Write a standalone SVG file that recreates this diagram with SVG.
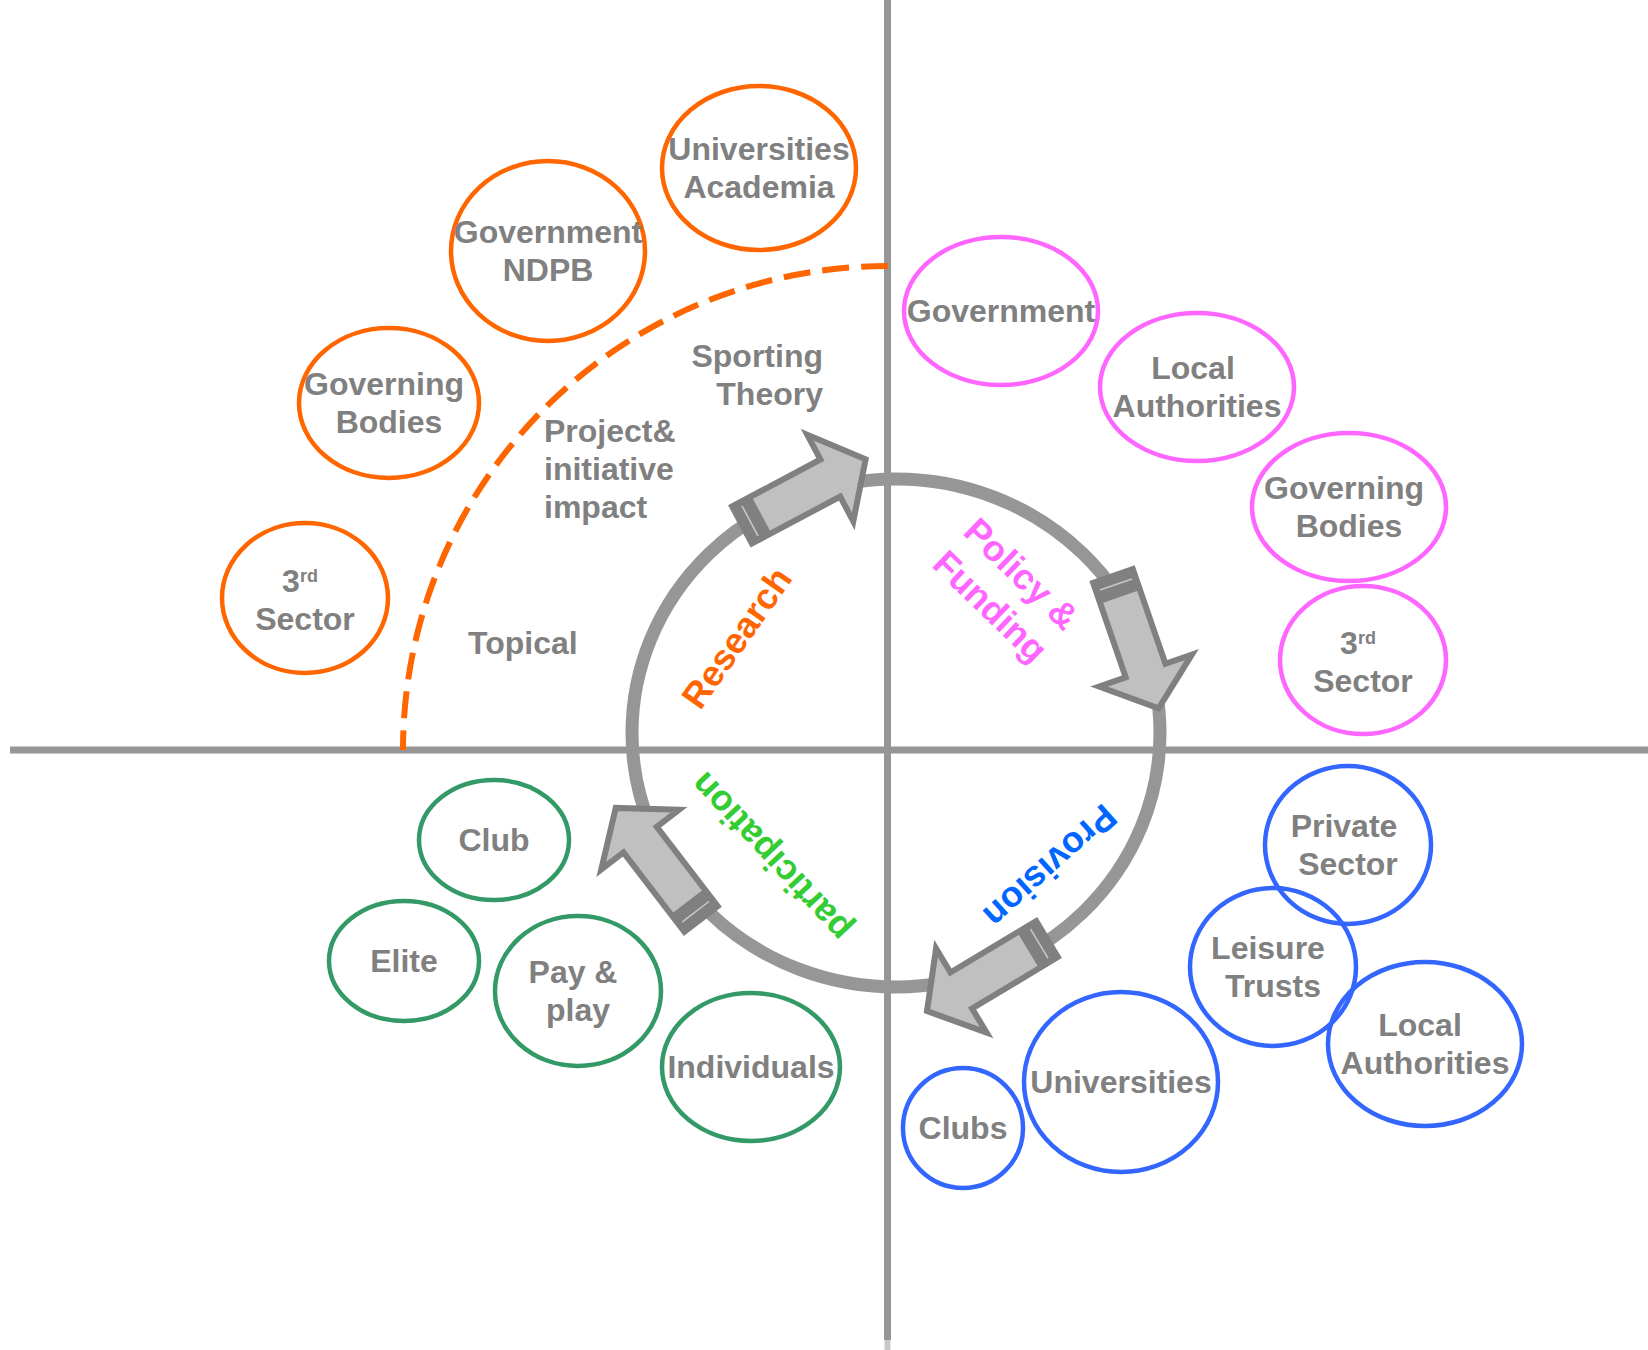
<svg xmlns="http://www.w3.org/2000/svg" width="1648" height="1350" viewBox="0 0 1648 1350">
<style>
.t{font-family:"Liberation Sans",Arial,sans-serif;font-weight:bold;font-size:32px;fill:#808080;text-anchor:middle}
.tl{text-anchor:start}
.te{text-anchor:end}
.sup{font-size:18px}
.big{font-family:"Liberation Sans",Arial,sans-serif;font-weight:bold;font-size:36px;text-anchor:middle}
.eo{fill:none;stroke:#FF6600;stroke-width:4.5}
.ep{fill:none;stroke:#FF66FF;stroke-width:4.5}
.eb{fill:none;stroke:#3366FF;stroke-width:4.5}
.eg{fill:none;stroke:#339966;stroke-width:4.5}
.ax{stroke:#969696;stroke-width:7;fill:none}
</style>
<defs>
<g id="barrow">
<path d="M0,-21 H100 V-49 L140,0 L100,49 V21 H0 Z" fill="#C0C0C0" stroke="#808080" stroke-width="6" stroke-linejoin="miter"/>
<rect x="0" y="-21" width="22" height="42" fill="#808080"/>
<line x1="9" y1="-17" x2="9" y2="17" stroke="#C8C8C8" stroke-width="1.5"/>
</g>
</defs>
<rect width="1648" height="1350" fill="#FFFFFF"/>
<g id="axes">
<line class="ax" x1="10" y1="750" x2="1648" y2="750"/>
<line class="ax" x1="887.5" y1="0" x2="887.5" y2="1340"/>
<line x1="887.5" y1="1340" x2="887.5" y2="1350" stroke="#C8C8C8" stroke-width="6"/>
</g>
<g id="connectors">
<path d="M888,266 A485,484 0 0 0 403,750" fill="none" stroke="#FF6600" stroke-width="6" stroke-dasharray="27 12"/>
<ellipse cx="896" cy="733" rx="264" ry="254" fill="none" stroke="#969696" stroke-width="13"/>
<use href="#barrow" transform="translate(742,525) rotate(-28)"/>
<use href="#barrow" transform="translate(1113,576) rotate(71)"/>
<use href="#barrow" transform="translate(1047,939) rotate(149)"/>
<use href="#barrow" transform="translate(701,919) rotate(-127.5)"/>
</g>
<g id="cycle-labels">
<text class="big" fill="#FF6600" transform="translate(737,638) rotate(-55)" y="12">Research</text>
<g transform="translate(1006,590) rotate(44)">
<text class="big" fill="#FF66FF" x="0" y="-10">Policy &amp;</text>
<text class="big" fill="#FF66FF" x="0" y="35">Funding</text>
</g>
<text class="big" fill="#0066FF" transform="translate(1050,866) rotate(138)" y="12">Provision</text>
<text class="big" fill="#33CC33" transform="translate(771,857) rotate(-133)" y="12">participation</text>
</g>
<g id="research-labels">
<text class="t te" x="823" y="367">Sporting</text>
<text class="t te" x="823" y="405">Theory</text>
<text class="t tl" x="544" y="442">Project&amp;</text>
<text class="t tl" x="544" y="480">initiative</text>
<text class="t tl" x="544" y="518">impact</text>
<text class="t tl" x="468" y="654">Topical</text>
</g>
<g id="n-universities-academia"><ellipse class="eo" cx="759" cy="168" rx="97" ry="82"/><text class="t" x="759" y="160">Universities</text><text class="t" x="759" y="198">Academia</text></g>
<g id="n-government-ndpb"><ellipse class="eo" cx="548" cy="251" rx="97" ry="90"/><text class="t" x="548" y="243">Government</text><text class="t" x="548" y="281">NDPB</text></g>
<g id="n-governing-bodies-o"><ellipse class="eo" cx="389" cy="403" rx="90" ry="75"/><text class="t" x="384" y="395">Governing</text><text class="t" x="389" y="433">Bodies</text></g>
<g id="n-3rd-sector-o"><ellipse class="eo" cx="305" cy="598" rx="83" ry="75"/><text class="t" x="300" y="592">3<tspan class="sup" dy="-10">rd</tspan></text><text class="t" x="305" y="630">Sector</text></g>
<g id="n-government-p"><ellipse class="ep" cx="1001" cy="311" rx="97" ry="74"/><text class="t" x="1001" y="322">Government</text></g>
<g id="n-local-authorities-p"><ellipse class="ep" cx="1197" cy="387" rx="97" ry="74"/><text class="t" x="1193" y="379">Local</text><text class="t" x="1197" y="417">Authorities</text></g>
<g id="n-governing-bodies-p"><ellipse class="ep" cx="1349" cy="507" rx="97" ry="74"/><text class="t" x="1344" y="499">Governing</text><text class="t" x="1349" y="537">Bodies</text></g>
<g id="n-3rd-sector-p"><ellipse class="ep" cx="1363" cy="660" rx="83" ry="74"/><text class="t" x="1358" y="654">3<tspan class="sup" dy="-10">rd</tspan></text><text class="t" x="1363" y="692">Sector</text></g>
<g id="n-private-sector"><ellipse class="eb" cx="1348" cy="845" rx="83" ry="79"/><text class="t" x="1344" y="837">Private</text><text class="t" x="1348" y="875">Sector</text></g>
<g id="n-leisure-trusts"><ellipse class="eb" cx="1273" cy="967" rx="83" ry="79"/><text class="t" x="1268" y="959">Leisure</text><text class="t" x="1273" y="997">Trusts</text></g>
<g id="n-local-authorities-b"><ellipse class="eb" cx="1425" cy="1044" rx="97" ry="82"/><text class="t" x="1420" y="1036">Local</text><text class="t" x="1425" y="1074">Authorities</text></g>
<g id="n-universities-b"><ellipse class="eb" cx="1121" cy="1082" rx="97" ry="90"/><text class="t" x="1121" y="1093">Universities</text></g>
<g id="n-clubs"><ellipse class="eb" cx="963" cy="1128" rx="60" ry="60"/><text class="t" x="963" y="1139">Clubs</text></g>
<g id="n-club"><ellipse class="eg" cx="494" cy="840" rx="75" ry="60"/><text class="t" x="494" y="851">Club</text></g>
<g id="n-elite"><ellipse class="eg" cx="404" cy="961" rx="75" ry="60"/><text class="t" x="404" y="972">Elite</text></g>
<g id="n-pay-play"><ellipse class="eg" cx="578" cy="991" rx="83" ry="75"/><text class="t" x="573" y="983">Pay &amp;</text><text class="t" x="578" y="1021">play</text></g>
<g id="n-individuals"><ellipse class="eg" cx="751" cy="1067" rx="89" ry="74"/><text class="t" x="751" y="1078">Individuals</text></g>
</svg>
